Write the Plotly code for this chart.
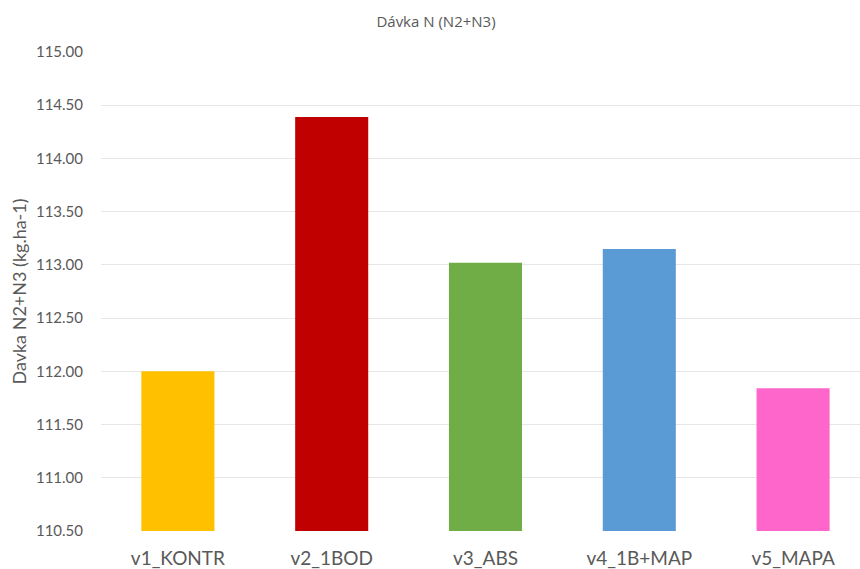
import plotly.graph_objects as go

# Variant names and applied nitrogen dose (N2+N3), kg/ha
variants = ["v1_KONTR", "v2_1BOD", "v3_ABS", "v4_1B+MAP", "v5_MAPA"]
doses = [112.00, 114.39, 113.02, 113.15, 111.84]
colors = ["#FFC000", "#C00000", "#70AD47", "#5B9BD5", "#FF66CC"]

axis_min = 110.5
axis_max = 115.0
y_ticks = [axis_min + 0.5 * i for i in range(10)]
y_labels = [f"{v:.2f}" for v in y_ticks]

# bars rise from the axis minimum up to each dose
fig = go.Figure(
    go.Bar(
        x=variants,
        y=[d - axis_min for d in doses],
        base=axis_min,
        marker=dict(color=colors, line=dict(width=0)),
        width=0.475,
        hovertext=[f"{d:.2f}" for d in doses],
    )
)

fig.update_layout(
    width=860,
    height=569,
    margin=dict(l=101, r=0, t=52, b=38),
    paper_bgcolor="white",
    plot_bgcolor="white",
    showlegend=False,
    title=dict(
        text="Dávka N (N2+N3)",
        x=436 / 860,
        xanchor="center",
        y=1 - 22 / 569,
        yanchor="middle",
        font=dict(family="Open Sans", size=15, color="#595959"),
    ),
    font=dict(family="Lato", color="#595959"),
)

fig.update_xaxes(
    range=[-0.5, 4.435],
    showgrid=False,
    showline=False,
    ticks="outside",
    ticklen=10,
    tickcolor="rgba(0,0,0,0)",
    tickfont=dict(family="Lato", size=19, color="#595959"),
)

fig.update_yaxes(
    range=[axis_min, axis_max],
    tickvals=y_ticks,
    ticktext=y_labels,
    showgrid=True,
    gridcolor="#E6E6E6",
    gridwidth=1,
    zeroline=False,
    showline=False,
    ticks="outside",
    ticklen=14,
    tickcolor="rgba(0,0,0,0)",
    tickfont=dict(family="Lato", size=15, color="#595959"),
    title=dict(
        text="Davka N2+N3 (kg.ha-1)",
        font=dict(family="Lato", size=18, color="#595959"),
        standoff=4,
    ),
)

fig.write_html("out.html")
